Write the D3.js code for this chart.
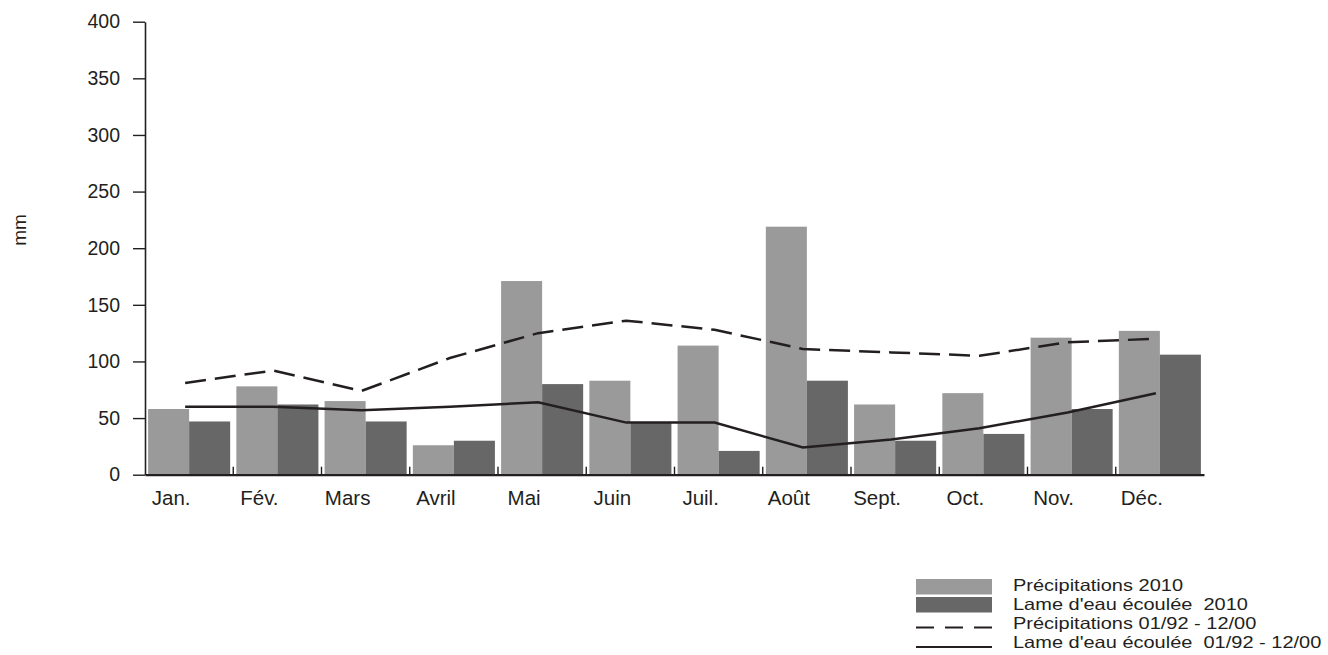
<!DOCTYPE html>
<html>
<head>
<meta charset="utf-8">
<script src="https://cdn.jsdelivr.net/npm/d3@7"></script>
<style>
  html, body { margin: 0; padding: 0; background: #fff; }
  svg { display: block; font-family: "Liberation Sans", Arial, sans-serif; }
  text { fill: #231f20; }
</style>
</head>
<body>
<svg id="chart" width="1328" height="655"></svg>
<script>
const months = ["Jan.", "Fév.", "Mars", "Avril", "Mai", "Juin", "Juil.", "Août", "Sept.", "Oct.", "Nov.", "Déc."];
const precip2010 = [58, 78, 65, 26, 171, 83, 114, 219, 62, 72, 121, 127];
const lame2010 = [47, 62, 47, 30, 80, 46, 21, 83, 30, 36, 58, 106];
const precipAvg = [81, 92, 74, 103, 125, 136, 128, 111, 108, 105, 117, 120];
const lameAvg = [60, 60, 57, 60, 64, 46, 46, 24, 31, 41, 55, 72];
const yTicks = [0, 50, 100, 150, 200, 250, 300, 350, 400];
const seriesNames = ["Précipitations 2010", "Lame d'eau écoulée  2010", "Précipitations 01/92 - 12/00", "Lame d'eau écoulée  01/92 - 12/00"];
const yLabel = "mm";

const ink = "#231f20";
const lightGrey = "#9a9a9a";
const darkGrey = "#676767";

const svg = d3.select("#chart");
const plot = { left: 145, right: 1204, top: 21.7, bottom: 474.7 };

const x = d3.scaleBand().domain(months).range([plot.left, plot.right]).paddingInner(0.07).paddingOuter(0.035);
const sub = d3.scaleBand().domain(["p", "l"]).range([0, x.bandwidth()]);
const y = d3.scaleLinear().domain([0, 400]).range([plot.bottom, plot.top]);

// bars
const g = svg.append("g");
g.selectAll("rect.p").data(months).join("rect")
  .attr("x", d => x(d) + sub("p"))
  .attr("y", (d, i) => y(precip2010[i]))
  .attr("width", sub.bandwidth())
  .attr("height", (d, i) => y(0) - y(precip2010[i]))
  .attr("fill", lightGrey);
g.selectAll("rect.l").data(months).join("rect")
  .attr("x", d => x(d) + sub("l"))
  .attr("y", (d, i) => y(lame2010[i]))
  .attr("width", sub.bandwidth())
  .attr("height", (d, i) => y(0) - y(lame2010[i]))
  .attr("fill", darkGrey);

// lines
const px = d => x(d) + x.bandwidth() / 2 - 4;
const lineP = d3.line().x((d, i) => px(months[i])).y(d => y(d));
svg.append("path").datum(precipAvg).attr("d", lineP)
  .attr("fill", "none").attr("stroke", ink).attr("stroke-width", 2.5)
  .attr("stroke-dasharray", "21,9");
svg.append("path").datum(lameAvg).attr("d", lineP)
  .attr("fill", "none").attr("stroke", ink).attr("stroke-width", 2.5);

// y axis
const yAxis = d3.axisLeft(y).tickValues(yTicks).tickSize(12).tickSizeOuter(0).tickPadding(13);
const ya = svg.append("g").attr("transform", `translate(${plot.left},0)`).call(yAxis);
ya.select(".domain").attr("stroke", ink).attr("stroke-width", 1.6);
ya.selectAll(".tick line").attr("stroke", ink).attr("stroke-width", 1.4);
ya.selectAll(".tick text").attr("font-size", 19.5).attr("font-family", "Liberation Sans, Arial, sans-serif").attr("fill", ink);

// x axis
const xAxis = d3.axisBottom(x).tickSize(0).tickSizeOuter(0).tickPadding(0);
const xa = svg.append("g").attr("transform", `translate(0,${plot.bottom})`).call(xAxis);
xa.select(".domain").attr("stroke", ink).attr("stroke-width", 2.2);
xa.selectAll(".tick text")
  .attr("font-size", 20.5).attr("font-family", "Liberation Sans, Arial, sans-serif").attr("fill", ink)
  .attr("dy", null).attr("y", 30).attr("dx", -18);
// inner category separators (ticks pointing up)
const sep = months.slice(1);
svg.append("g").selectAll("line").data(sep).join("line")
  .attr("x1", d => x(d) - x.step() * x.paddingInner() / 2)
  .attr("x2", d => x(d) - x.step() * x.paddingInner() / 2)
  .attr("y1", plot.bottom).attr("y2", plot.bottom - 8)
  .attr("stroke", ink).attr("stroke-width", 1.4);

// y label
svg.append("text")
  .attr("transform", "translate(26,230) rotate(-90)")
  .attr("text-anchor", "middle")
  .attr("font-size", 19)
  .text(yLabel);

// legend
const lg = svg.append("g").attr("transform", "translate(916,0)");
const rowBase = [591, 610, 629, 648];
lg.append("rect").attr("x", 0).attr("y", 579).attr("width", 76).attr("height", 15.5).attr("fill", lightGrey);
lg.append("rect").attr("x", 0).attr("y", 597).attr("width", 76).attr("height", 15.5).attr("fill", darkGrey);
lg.append("line").attr("x1", 0).attr("x2", 76).attr("y1", 627.5).attr("y2", 627.5)
  .attr("stroke", ink).attr("stroke-width", 2.2).attr("stroke-dasharray", "18,11");
lg.append("line").attr("x1", 0).attr("x2", 76).attr("y1", 647).attr("y2", 647)
  .attr("stroke", ink).attr("stroke-width", 2.2);
const lt = lg.selectAll("text").data(seriesNames).join("text")
  .attr("x", 97)
  .attr("y", (d, i) => rowBase[i])
  .attr("font-size", 16.5)
  .style("white-space", "pre")
  .text(d => d);
// stretch horizontally to match the reference's wide lettering
const k = 170 / lt.node().getComputedTextLength();
lt.each(function () {
  const w = this.getComputedTextLength();
  d3.select(this).attr("textLength", w * k).attr("lengthAdjust", "spacingAndGlyphs");
});
</script>
</body>
</html>
